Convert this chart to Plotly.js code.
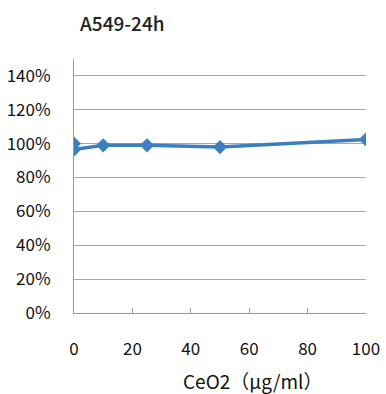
<!DOCTYPE html>
<html>
<head>
<meta charset="utf-8">
<script src="https://cdn.plot.ly/plotly-3.0.1.min.js"></script>
<style>
  html, body { margin: 0; padding: 0; background: #fff; }
  #chart { width: 386px; height: 394px; }
</style>
</head>
<body>
<div id="chart"></div>
<script>
// CeO2 concentration (µg/ml) and relative viability of A549 cells after 24 h
const concentration = [0, 0, 10, 25, 50, 100];
const viability = [1.00, 0.965, 0.99, 0.99, 0.98, 1.025];

const xTicks = [0, 20, 40, 60, 80, 100];
const yTicks = [0, 0.2, 0.4, 0.6, 0.8, 1.0, 1.2, 1.4];
const yTickText = ['0%', '20%', '40%', '60%', '80%', '100%', '120%', '140%'];

const font = '"Noto Sans CJK JP", "Liberation Sans", sans-serif';

const trace = {
  x: concentration,
  y: viability,
  type: 'scatter',
  mode: 'lines+markers',
  line: { color: '#3b7fc1', width: 3.5 },
  marker: { symbol: 'diamond', size: 11, color: '#3b7fc1' },
  hoverinfo: 'skip'
};

const layout = {
  width: 386,
  height: 394,
  margin: { l: 74, r: 20, t: 59, b: 81 },
  paper_bgcolor: '#ffffff',
  plot_bgcolor: '#ffffff',
  showlegend: false,
  font: { family: font, color: '#111', size: 17 },
  title: {
    text: 'A549-24h',
    font: { family: font, size: 19, color: '#222', weight: 500 },
    xref: 'container', yref: 'container',
    x: 80 / 386, xanchor: 'left',
    y: 1 - 24 / 394, yanchor: 'middle'
  },
  xaxis: {
    range: [0, 100],
    tickvals: xTicks,
    ticktext: xTicks.map(String),
    ticks: 'inside',
    ticklen: 5,
    tickcolor: '#999',
    showline: true,
    linecolor: '#999',
    linewidth: 1,
    mirror: false,
    showgrid: false,
    zeroline: false,
    ticklabelstandoff: 21,
    tickfont: { family: font, size: 17, color: '#111' }
  },
  yaxis: {
    range: [0, 1.5],
    tickvals: yTicks,
    ticktext: yTickText,
    ticks: '',
    showline: true,
    linecolor: '#999',
    linewidth: 1,
    showgrid: true,
    gridcolor: '#a8a8a8',
    gridwidth: 1,
    zeroline: false,
    ticklabelstandoff: 19,
    tickfont: { family: font, size: 17, color: '#111' }
  },
  annotations: [{
    text: 'CeO2（μg/ml）',
    xref: 'paper', yref: 'paper',
    x: (252 - 74) / 292, y: 0,
    xanchor: 'center', yanchor: 'middle',
    yshift: -67,
    showarrow: false,
    font: { family: font, size: 19, color: '#111' }
  }]
};

Plotly.newPlot('chart', [trace], layout, { staticPlot: true, displayModeBar: false });
</script>
</body>
</html>
